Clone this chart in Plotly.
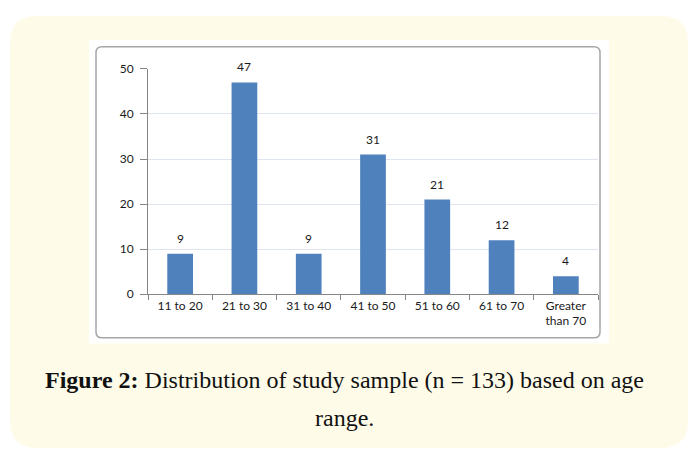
import plotly.graph_objects as go

categories = ["11 to 20", "21 to 30", "31 to 40", "41 to 50", "51 to 60", "61 to 70", "Greater<br>than 70"]
counts = [9, 47, 9, 31, 21, 12, 4]
y_ticks = [0, 10, 20, 30, 40, 50]
caption_line1 = "<b>Figure 2:</b> Distribution of study sample (n = 133) based on age"
caption_line2 = "range."

W, H = 688, 456

def px(x):
    return x / W

def py(y):
    return 1 - y / H

def rounded_path(x0, y0, x1, y1, r):
    rx, ry = r / W, r / H
    X0, X1 = px(x0), px(x1)
    Y0, Y1 = py(y0), py(y1)  # Y0 top, Y1 bottom
    return (f"M {X0+rx},{Y0} L {X1-rx},{Y0} Q {X1},{Y0} {X1},{Y0-ry} "
            f"L {X1},{Y1+ry} Q {X1},{Y1} {X1-rx},{Y1} "
            f"L {X0+rx},{Y1} Q {X0},{Y1} {X0},{Y1+ry} "
            f"L {X0},{Y0-ry} Q {X0},{Y0} {X0+rx},{Y0} Z")

fig = go.Figure()
fig.add_trace(go.Bar(
    x=categories, y=counts,
    marker=dict(color="#4F81BD", line=dict(width=0)),
    hoverinfo="x+y",
))

annotations = []
for c, v in zip(categories, counts):
    annotations.append(dict(
        x=c, y=v, xref="x", yref="y", text=str(v), showarrow=False,
        yanchor="bottom", yshift=6,
        font=dict(family="Lato, Liberation Sans, sans-serif", size=12, color="#1a1a1a"),
    ))

annotations.append(dict(
    x=0.5, y=py(385), xref="paper", yref="paper", text=caption_line1,
    showarrow=False, xanchor="center", yanchor="middle",
    font=dict(family="Liberation Serif, serif", size=24, color="#111111"),
))
annotations.append(dict(
    x=0.5, y=py(424), xref="paper", yref="paper", text=caption_line2,
    showarrow=False, xanchor="center", yanchor="middle",
    font=dict(family="Liberation Serif, serif", size=24, color="#111111"),
))

shapes = [
    dict(type="path", path=rounded_path(10, 8, 688, 455, 28), xref="paper", yref="paper",
         fillcolor="#FEFBE8", line=dict(width=0), layer="below"),
    dict(type="rect", x0=px(89), x1=px(609), y0=py(347), y1=py(33), xref="paper", yref="paper",
         fillcolor="#FFFFFF", line=dict(width=0), layer="below"),
    dict(type="path", path=rounded_path(96, 40, 600, 341, 6), xref="paper", yref="paper",
         fillcolor="rgba(0,0,0,0)", line=dict(color="#A6A6A6", width=1.5), layer="below"),
]

fig.update_layout(
    width=W, height=H,
    margin=dict(l=0, r=0, t=0, b=0),
    paper_bgcolor="#FFFFFF",
    plot_bgcolor="rgba(0,0,0,0)",
    showlegend=False,
    bargap=0.6,
    shapes=shapes,
    annotations=annotations,
    xaxis=dict(
        domain=[px(148), px(598)],
        type="category",
        showline=True, linecolor="#868686", linewidth=1,
        ticks="outside", tickson="boundaries", ticklen=5, tickcolor="#868686",
        tickfont=dict(family="Lato, Liberation Sans, sans-serif", size=12, color="#1a1a1a"),
        showgrid=False,
    ),
    yaxis=dict(
        domain=[py(296), py(63)],
        range=[0, 50],
        tickvals=y_ticks,
        showline=True, linecolor="#868686", linewidth=1,
        ticks="outside", ticklen=7, tickcolor="#868686",
        ticklabelstandoff=4,
        tickfont=dict(family="Lato, Liberation Sans, sans-serif", size=12, color="#1a1a1a"),
        showgrid=True, gridcolor="#DFE5EE", gridwidth=1,
        zeroline=False,
    ),
)

fig.write_html(
    "out.html",
    config={"displayModeBar": False},
    post_script="document.body.style.margin='0';document.body.style.overflow='hidden';",
)
